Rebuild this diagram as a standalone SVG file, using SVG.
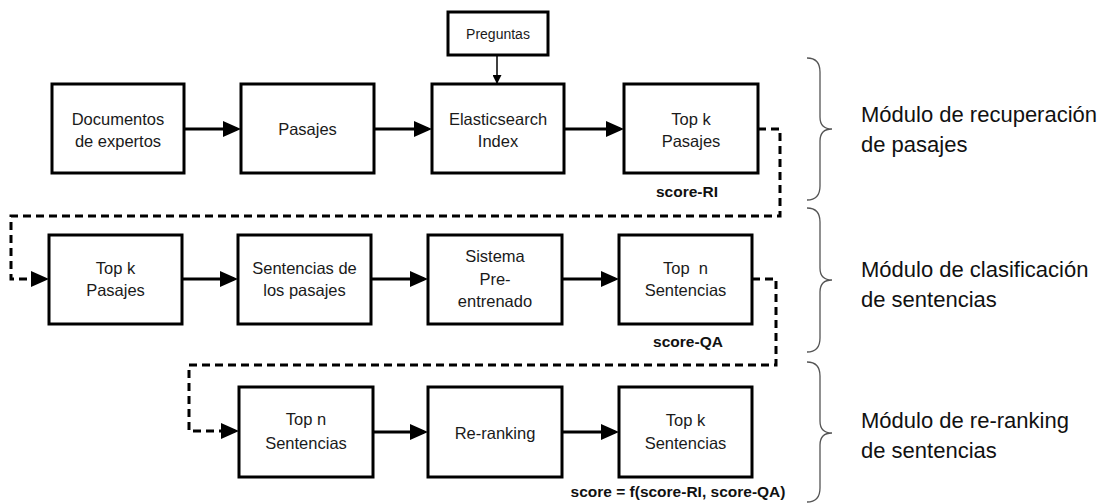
<svg xmlns="http://www.w3.org/2000/svg" width="1108" height="503" viewBox="0 0 1108 503">
  <style>
    .box { fill: #ffffff; stroke: #000000; stroke-width: 3; }
    .lbl { font-family: "Liberation Sans", Arial, sans-serif; font-size: 16.5px; fill: #1a1a1a; text-anchor: middle; }
    .small { font-size: 14px; }
    .score { font-family: "Liberation Sans", Arial, sans-serif; font-size: 15.5px; font-weight: bold; fill: #111111; text-anchor: middle; }
    .mod { font-family: "Liberation Sans", Arial, sans-serif; font-size: 22px; fill: #111111; }
    .flow { fill: none; stroke: #000000; stroke-width: 3; marker-end: url(#head); }
    .dash { fill: none; stroke: #000000; stroke-width: 3; stroke-dasharray: 8 5; marker-end: url(#head); }
    .thin { fill: none; stroke: #000000; stroke-width: 1.5; marker-end: url(#headSmall); }
    .brace { fill: none; stroke: #555555; stroke-width: 1.3; }
  </style>
  <defs>
    <marker id="head" markerUnits="userSpaceOnUse" markerWidth="18" markerHeight="16" viewBox="0 0 18 16" refX="14" refY="8" orient="auto">
      <path d="M0,0 L18,8 L0,16 Z" fill="#000000"/>
    </marker>
    <marker id="headSmall" markerUnits="userSpaceOnUse" markerWidth="9" markerHeight="9" viewBox="0 0 9 9" refX="8" refY="4.5" orient="auto">
      <path d="M0,0 L9,4.5 L0,9 Z" fill="#000000"/>
    </marker>
  </defs>

  <!-- connectors -->
  <g id="connectors">
    <path class="thin" d="M497,55 V83"/>
    <path class="flow" d="M184,129 H237"/>
    <path class="flow" d="M374,129 H428"/>
    <path class="flow" d="M564,129 H620"/>
    <path class="dash" d="M758,129 H780 V216 H11 V279 H45"/>
    <path class="flow" d="M182,279 H234"/>
    <path class="flow" d="M371,279 H424"/>
    <path class="flow" d="M562,279 H615"/>
    <path class="dash" d="M752,279 H776 V365 H189 V431 H235"/>
    <path class="flow" d="M373,432 H424"/>
    <path class="flow" d="M562,432 H615"/>
  </g>

  <!-- row 1: passage retrieval -->
  <g id="preguntas">
    <rect class="box" x="448" y="12" width="100" height="43" stroke-width="2.5"/>
    <text class="lbl small" x="498" y="39">Preguntas</text>
  </g>
  <g id="documentos">
    <rect class="box" x="52" y="84" width="132" height="89"/>
    <text class="lbl" x="118" y="125">Documentos</text>
    <text class="lbl" x="118" y="147">de expertos</text>
  </g>
  <g id="pasajes">
    <rect class="box" x="241" y="84" width="133" height="89"/>
    <text class="lbl" x="307.5" y="135">Pasajes</text>
  </g>
  <g id="elasticsearch">
    <rect class="box" x="432" y="84" width="132" height="89"/>
    <text class="lbl" x="498" y="125">Elasticsearch</text>
    <text class="lbl" x="498" y="147">Index</text>
  </g>
  <g id="topk-pasajes">
    <rect class="box" x="624" y="84" width="134" height="89"/>
    <text class="lbl" x="691" y="125">Top k</text>
    <text class="lbl" x="691" y="147">Pasajes</text>
    <text class="score" x="687" y="197">score-RI</text>
  </g>

  <!-- row 2: sentence classification -->
  <g id="topk-pasajes-2">
    <rect class="box" x="49" y="235" width="133" height="89"/>
    <text class="lbl" x="115.5" y="274">Top k</text>
    <text class="lbl" x="115.5" y="296">Pasajes</text>
  </g>
  <g id="sentencias-pasajes">
    <rect class="box" x="238" y="235" width="133" height="89"/>
    <text class="lbl" x="304.5" y="274">Sentencias de</text>
    <text class="lbl" x="304.5" y="296">los pasajes</text>
  </g>
  <g id="sistema">
    <rect class="box" x="428" y="235" width="134" height="89"/>
    <text class="lbl" x="495" y="262">Sistema</text>
    <text class="lbl" x="495" y="284.5">Pre-</text>
    <text class="lbl" x="495" y="307">entrenado</text>
  </g>
  <g id="topn-sentencias">
    <rect class="box" x="619" y="235" width="133" height="89"/>
    <text class="lbl" x="685.5" y="274" xml:space="preserve">Top  n</text>
    <text class="lbl" x="685.5" y="296">Sentencias</text>
    <text class="score" x="688" y="347">score-QA</text>
  </g>

  <!-- row 3: re-ranking -->
  <g id="topn-sentencias-2">
    <rect class="box" x="239" y="387" width="134" height="90"/>
    <text class="lbl" x="306" y="425">Top n</text>
    <text class="lbl" x="306" y="449">Sentencias</text>
  </g>
  <g id="reranking">
    <rect class="box" x="428" y="387" width="134" height="90"/>
    <text class="lbl" x="495" y="439">Re-ranking</text>
  </g>
  <g id="topk-sentencias">
    <rect class="box" x="619" y="387" width="133" height="90"/>
    <text class="lbl" x="685.5" y="426">Top k</text>
    <text class="lbl" x="685.5" y="449">Sentencias</text>
    <text class="score" x="678" y="497">score = f(score-RI, score-QA)</text>
  </g>

  <!-- module braces and captions -->
  <g id="modulo-recuperacion">
    <path class="brace" d="M807,58 Q820,58 820,72 L820,117 Q820,129 832,129 Q820,129 820,141 L820,186 Q820,200 807,200"/>
    <text class="mod" x="861" y="122">Módulo de recuperación</text>
    <text class="mod" x="861" y="152">de pasajes</text>
  </g>
  <g id="modulo-clasificacion">
    <path class="brace" d="M807,208 Q820,208 820,222 L820,268 Q820,280 832,280 Q820,280 820,292 L820,338 Q820,352 807,352"/>
    <text class="mod" x="861" y="277">Módulo de clasificación</text>
    <text class="mod" x="861" y="307">de sentencias</text>
  </g>
  <g id="modulo-reranking">
    <path class="brace" d="M807,362 Q820,362 820,376 L820,421 Q820,433 832,433 Q820,433 820,445 L820,488 Q820,502 807,502"/>
    <text class="mod" x="861" y="428">Módulo de re-ranking</text>
    <text class="mod" x="861" y="458">de sentencias</text>
  </g>
</svg>
